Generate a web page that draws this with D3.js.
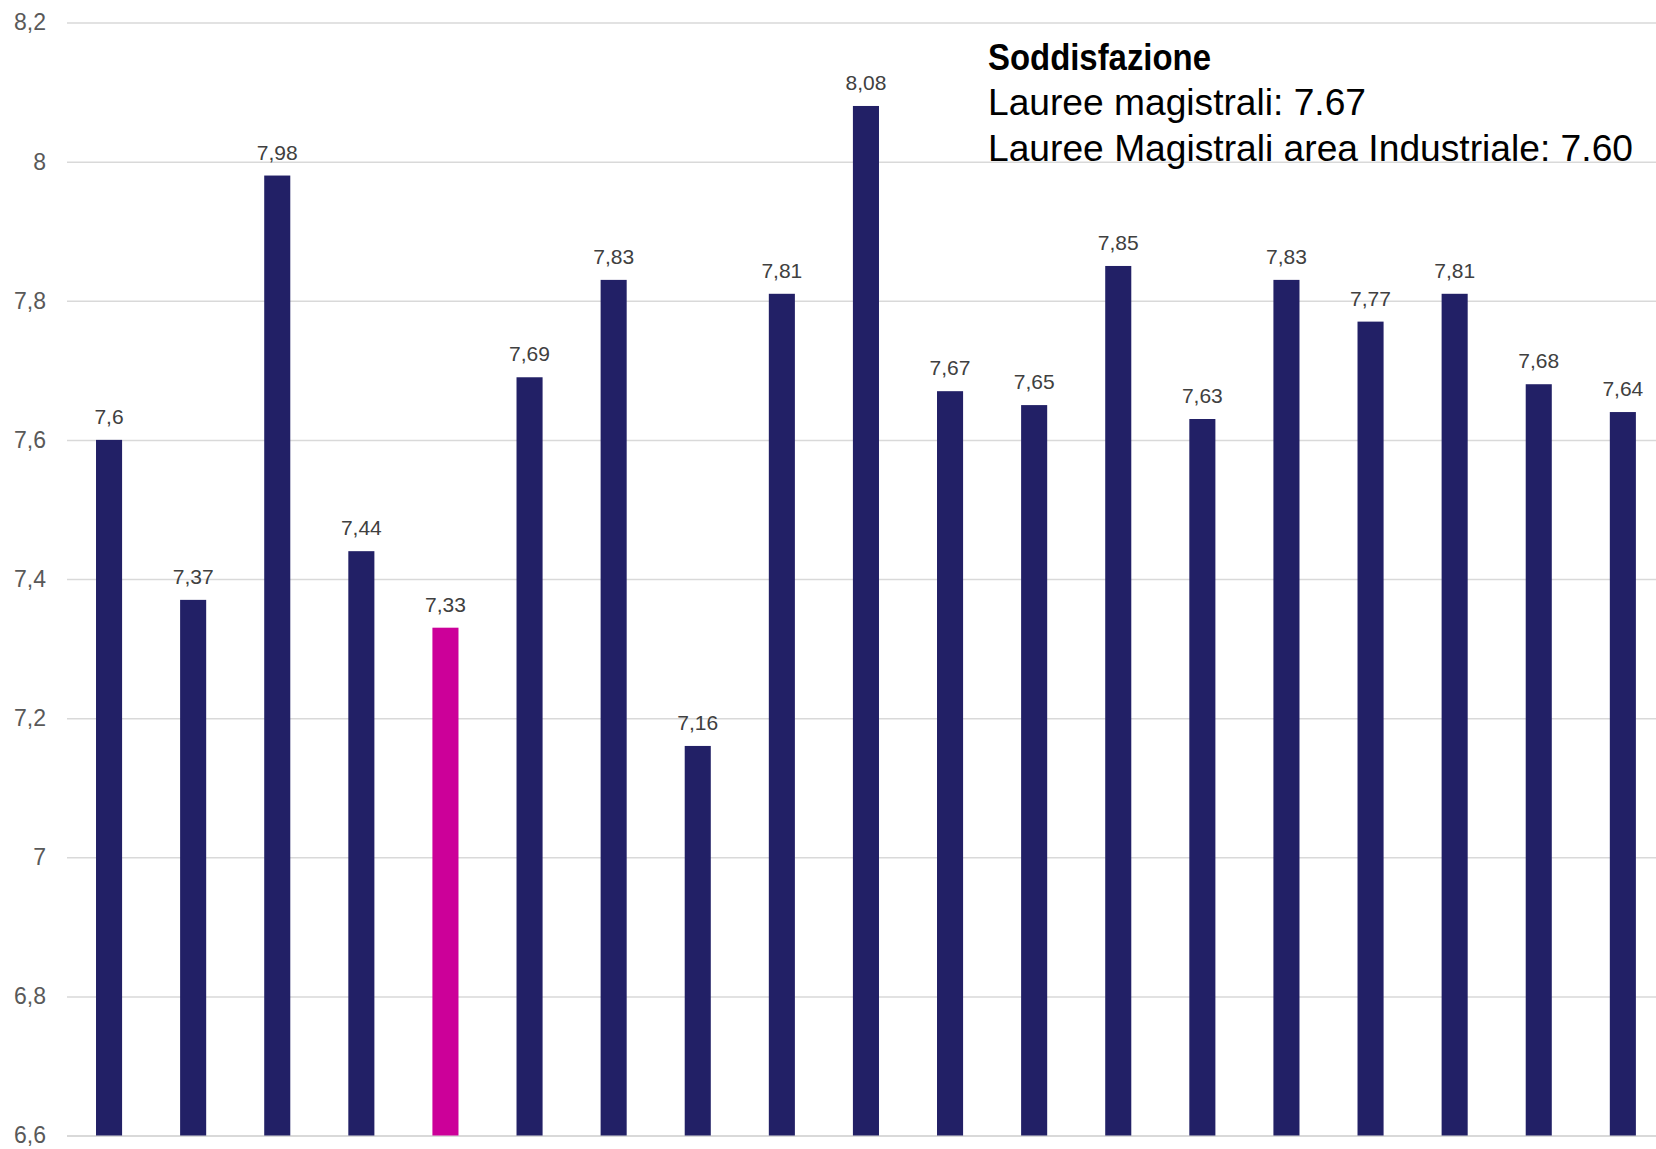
<!DOCTYPE html>
<html>
<head>
<meta charset="utf-8">
<script src="https://cdn.jsdelivr.net/npm/d3@7"></script>
<style>
html,body{margin:0;padding:0;background:#fff;}
svg{display:block;}
</style>
</head>
<body>
<svg id="chart" width="1656" height="1149"></svg>
<script>
const categories = ["C1","C2","C3","C4","C5","C6","C7","C8","C9","C10","C11","C12","C13","C14","C15","C16","C17","C18","C19"];
const values = [7.6,7.37,7.98,7.44,7.33,7.69,7.83,7.16,7.81,8.08,7.67,7.65,7.85,7.63,7.83,7.77,7.81,7.68,7.64];
const highlighted = ["C5"];
const yTicks = [6.6,6.8,7,7.2,7.4,7.6,7.8,8,8.2];
const titleLines = ["Soddisfazione","Lauree magistrali: 7.67","Lauree Magistrali area Industriale: 7.60"];
const titleWidths = [223, 378, 645];

(function(){
const svg = d3.select("#chart");
const mLeft = 67, mTop = 22.5, mBottom = 1135.5, step = 84.1;
const y = d3.scaleLinear().domain([6.6, 8.2]).range([mBottom, mTop]);
const x = d3.scaleBand().domain(categories).range([mLeft, mLeft + step*categories.length]).paddingInner(0.69).paddingOuter(0.345);

const fmt = v => String(v).replace(".", ",");

const yAxis = d3.axisLeft(y).tickValues(yTicks).tickSize(-(1656-mLeft)).tickFormat(fmt).tickPadding(21);
const gAxis = svg.append("g").attr("transform", `translate(${mLeft},0)`).call(yAxis);
gAxis.select(".domain").remove();
gAxis.selectAll(".tick line").attr("stroke", "#d9d9d9").attr("stroke-width", d => d === 6.6 ? 2 : 1.5);
gAxis.selectAll(".tick text").attr("fill", "#595959").attr("font-family", "Liberation Sans, Arial, sans-serif").attr("font-size", 23);

svg.append("g").selectAll("rect").data(values).join("rect")
  .attr("x", (d,i) => x(categories[i]))
  .attr("width", x.bandwidth())
  .attr("y", d => y(d))
  .attr("height", d => y(6.6) - y(d))
  .attr("fill", (d,i) => highlighted.includes(categories[i]) ? "#cc0099" : "#222066");

svg.append("g").selectAll("text").data(values).join("text")
  .attr("x", (d,i) => x(categories[i]) + x.bandwidth()/2)
  .attr("y", d => y(d) - 16)
  .attr("text-anchor", "middle")
  .attr("font-family", "Liberation Sans, Arial, sans-serif")
  .attr("font-size", 21)
  .attr("fill", "#404040")
  .text(d => fmt(d));

const tg = svg.append("g").attr("font-family", "Liberation Sans, Arial, sans-serif").attr("fill", "#000");
tg.selectAll("text").data(titleLines).join("text")
  .attr("x", 988)
  .attr("y", (d,i) => 69.5 + i*45.5)
  .attr("font-size", 36)
  .attr("font-weight", (d,i) => i === 0 ? "bold" : "normal")
  .attr("textLength", (d,i) => titleWidths[i])
  .attr("lengthAdjust", "spacingAndGlyphs")
  .text(d => d);
})();
</script>
</body>
</html>
